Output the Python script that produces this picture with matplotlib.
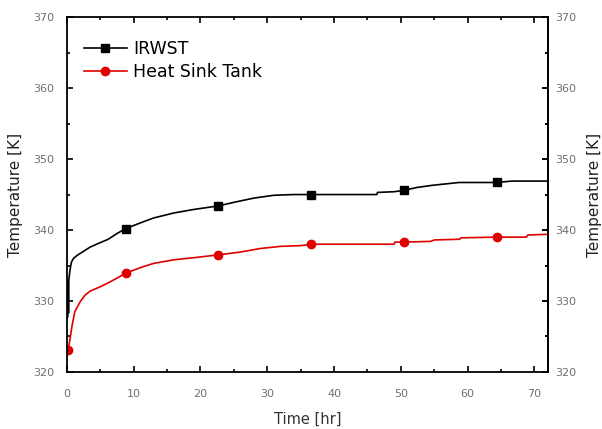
import matplotlib
matplotlib.use("Agg")
import matplotlib.pyplot as plt

plt.rcParams['font.family'] = ['DejaVu Sans']

# IRWST temperature history
irwst_time = [0.0, 0.1, 0.2, 0.25, 0.3, 0.5, 0.7, 1.0, 1.5, 2.5, 3.5, 4.7, 6.2, 7.5,
              8.8, 11, 13, 16, 19, 22.7, 25, 28, 31, 34, 36.6, 40, 46.4, 46.5, 49,
              50.5, 52.4, 54.7, 58.7, 64.4, 66.6, 72]
irwst_temp = [332.5, 327.7, 332.8, 328.3, 333.0, 334.5, 335.5, 336.0, 336.4, 337.0,
              337.6, 338.1, 338.7, 339.5, 340.2, 341.0, 341.7, 342.4, 342.9, 343.4,
              343.9, 344.5, 344.9, 345.0, 345.0, 345.0, 345.0, 345.3, 345.4, 345.6,
              346.0, 346.3, 346.7, 346.7, 346.9, 346.9]
irwst_marks = [14, 19, 24, 29, 33]

# Heat sink tank temperature history
hst_time = [0.2, 0.5, 0.8, 1.2, 2.0, 2.7, 3.5, 5.0, 6.5, 8.8, 11, 13, 16, 19, 22.7,
            26, 29, 32, 35, 36.6, 49, 49.1, 50.5, 54.5, 55, 58.8, 59, 64.4, 68.8,
            69, 72]
hst_temp = [323.1, 324.8, 326.6, 328.5, 329.9, 330.8, 331.4, 332.0, 332.7, 333.9,
            334.7, 335.3, 335.8, 336.1, 336.5, 336.9, 337.4, 337.7, 337.8, 338.0,
            338.0, 338.3, 338.3, 338.4, 338.6, 338.7, 338.9, 339.0, 339.0, 339.3,
            339.4]
hst_marks = [0, 9, 14, 19, 22, 27]

x_major = [0, 10, 20, 30, 40, 50, 60, 70]
x_minor = [5, 15, 25, 35, 45, 55, 65]
y_major = [320, 330, 340, 350, 360, 370]
y_minor = [325, 335, 345, 355, 365]

fig = plt.figure(figsize=(6.02, 4.29), dpi=100)
ax = fig.add_axes([0.111, 0.133, 0.799, 0.827])

ax.plot(irwst_time, irwst_temp, color='black', lw=1.2, marker='s', ms=6,
        markevery=irwst_marks, label='IRWST')
ax.plot(hst_time, hst_temp, color='#e00000', lw=1.2, marker='o', ms=6,
        markevery=hst_marks, label='Heat Sink Tank')

ax.set_xlim(0, 72)
ax.set_ylim(320, 370)
ax.set_xticks(x_major)
ax.set_xticks(x_minor, minor=True)
ax.set_yticks(y_major)
ax.set_yticks(y_minor, minor=True)
ax.tick_params(which='both', direction='in', top=True, right=True,
               labelsize=8, labelcolor='#707070', width=1.2)
ax.tick_params(which='major', length=4.5)
ax.tick_params(which='minor', length=2.5)
ax.tick_params(axis='x', pad=12)
ax.tick_params(axis='y', which='major', pad=9)
for s in ax.spines.values():
    s.set_linewidth(1.3)

# right-hand tick labels sit closer to the spine
ax2 = ax.secondary_yaxis('right')
ax2.set_yticks(y_major)
ax2.set_yticks(y_minor, minor=True)
ax2.tick_params(which='both', direction='in', labelsize=8, labelcolor='#707070',
                width=1.2, pad=5)
ax2.tick_params(which='major', length=4.5)
ax2.tick_params(which='minor', length=2.5)
ax2.spines['right'].set_linewidth(1.3)

ax.set_xlabel('Time [hr]', fontsize=10.5, color='#333333')
ax.xaxis.set_label_coords(0.5, -0.112)
ax.set_ylabel('Temperature [K]', fontsize=11, color='#222222')
ax.yaxis.set_label_coords(-0.092, 0.5)
fig.text(594 / 602, 0.5465, 'Temperature [K]', fontsize=11, color='#222222',
         rotation=90, ha='center', va='center')

ax.legend(loc='upper left', bbox_to_anchor=(-0.012, 1.0), frameon=False,
          fontsize=12.5, handlelength=2.5, handletextpad=0.35,
          labelspacing=0.3, borderaxespad=0.9)

fig.savefig('out.png', dpi=100)
